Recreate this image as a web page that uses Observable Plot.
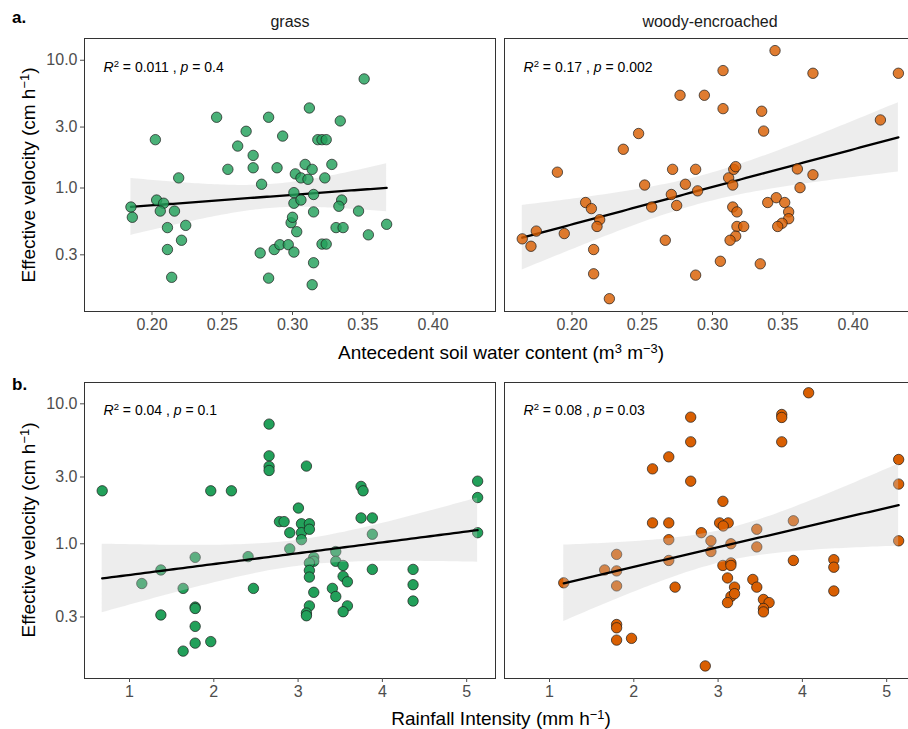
<!DOCTYPE html>
<html><head><meta charset="utf-8">
<script src="https://cdn.jsdelivr.net/npm/d3@7"></script>
<script src="https://cdn.jsdelivr.net/npm/@observablehq/plot@0.6"></script>
<style>
body{margin:0;background:#fff;font-family:"Liberation Sans",Arial,sans-serif;}
#wrap{position:relative;width:908px;height:729px;overflow:hidden;background:#fff;}
.lbl{position:absolute;white-space:nowrap;color:#000;line-height:1;}
.lbl sup{font-size:0.68em;vertical-align:0;position:relative;top:-0.5em;}
.tag{position:absolute;font-weight:bold;font-size:17px;line-height:1;color:#000;}
.chart{position:absolute;left:0;width:915px;}
.chart svg{max-width:none !important;}
</style></head><body>
<div id="wrap">
  <div id="ca" class="chart" style="top:0"></div>
  <div id="cb" class="chart" style="top:365px"></div>
  <div class="tag" style="left:12px;top:9px">a.</div>
  <div class="tag" style="left:12px;top:376px">b.</div>
  <div class="lbl" style="left:28px;top:175px;font-size:19px;transform:translate(-50%,-50%) rotate(-90deg)">Effective velocity (cm h<sup>−1</sup>)</div>
  <div class="lbl" style="left:28px;top:530px;font-size:19px;transform:translate(-50%,-50%) rotate(-90deg)">Effective velocity (cm h<sup>−1</sup>)</div>
  <div class="lbl" style="left:501px;top:352px;font-size:19px;transform:translate(-50%,-50%)">Antecedent soil water content (m<sup>3</sup> m<sup>−3</sup>)</div>
  <div class="lbl" style="left:501px;top:718px;font-size:19px;transform:translate(-50%,-50%)">Rainfall Intensity (mm h<sup>−1</sup>)</div>
</div>
<script>
const panels = ["grass", "woody-encroached"];
const velTicks = [0.3, 1, 3, 10];
const swcTicks = [0.20, 0.25, 0.30, 0.35, 0.40];
const rainTicks = [1, 2, 3, 4, 5];

// a. grass: antecedent soil water content vs effective velocity
const grassSWC = [0.185,0.186,0.2024,0.2033,0.2083,0.2059,0.216,0.219,0.211,0.224,0.221,0.211,0.214,0.246,0.254,0.261,0.267,0.272,0.272,0.278,0.283,0.289,0.293,0.277,0.283,0.287,0.291,0.297,0.301,0.299,0.300,0.303,0.301,0.301,0.306,0.302,0.306,0.311,0.309,0.314,0.312,0.315,0.315,0.315,0.314,0.318,0.321,0.324,0.321,0.324,0.323,0.328,0.334,0.335,0.333,0.331,0.336,0.347,0.351,0.354,0.367];
const grassSWCVel = [0.71,0.59,2.39,0.805,0.76,0.66,0.66,1.20,0.49,0.51,0.39,0.33,0.20,3.58,1.40,2.13,2.78,1.80,1.44,1.07,3.58,1.44,2.55,0.31,0.197,0.33,0.36,0.36,0.315,0.535,0.59,0.455,0.92,0.76,0.805,1.29,1.20,1.17,1.53,1.40,4.23,0.89,0.65,0.26,0.175,2.39,2.39,2.39,0.364,0.364,1.20,1.53,3.35,0.805,0.72,0.49,0.49,0.66,7.14,0.43,0.52];

// a. woody-encroached
const woodySWC = [0.1646,0.1708,0.1746,0.1896,0.1945,0.2097,0.2138,0.2197,0.2178,0.2154,0.2154,0.2266,0.2365,0.2474,0.2517,0.2567,0.2664,0.2707,0.2716,0.2745,0.2769,0.2807,0.2880,0.2894,0.2880,0.2942,0.3056,0.3075,0.3075,0.3115,0.3144,0.3151,0.3165,0.3144,0.3174,0.3174,0.3222,0.3165,0.3125,0.3340,0.3350,0.3364,0.3393,0.3454,0.3445,0.3514,0.3542,0.3542,0.3495,0.3464,0.3604,0.3623,0.3715,0.3715,0.4195,0.4323];
const woodySWCVel = [0.40,0.35,0.46,1.33,0.44,0.77,0.69,0.565,0.50,0.33,0.213,0.136,2.01,2.67,1.055,0.71,0.39,0.89,1.40,0.73,5.32,1.07,1.40,0.95,0.208,5.32,0.267,8.30,4.18,1.20,1.055,1.40,1.47,0.71,0.65,0.50,0.50,0.42,0.39,0.255,3.99,2.79,0.77,0.84,11.9,0.77,0.65,0.575,0.53,0.50,1.41,1.006,7.91,1.27,3.41,7.91];

// b. grass: rainfall intensity vs effective velocity
const grassRain = [0.676,1.146,1.372,1.372,1.636,1.779,1.779,1.779,1.779,1.779,1.636,1.964,1.964,2.209,2.407,2.470,2.656,2.656,2.656,2.656,2.779,2.834,2.901,2.901,3.004,3.040,3.040,3.040,3.134,3.134,3.099,3.186,3.186,3.134,3.134,3.134,3.186,3.134,3.099,3.099,3.447,3.447,3.534,3.534,3.585,3.407,3.447,3.585,3.534,3.747,3.771,3.747,3.881,3.881,3.881,4.364,4.364,4.364,5.130,5.130,5.130];
const grassRainVel = [2.39,0.52,0.65,0.31,0.48,0.80,0.353,0.345,0.257,0.195,0.171,0.20,2.39,2.39,0.81,0.48,7.16,4.25,3.57,3.34,1.44,1.44,1.20,0.92,1.80,1.39,1.20,1.07,1.39,1.27,3.59,0.80,0.75,0.73,0.645,0.578,0.45,0.36,0.32,0.306,0.88,0.75,0.70,0.585,0.535,0.48,0.42,0.36,0.327,2.57,2.39,1.53,1.53,1.17,0.656,0.656,0.51,0.39,2.80,2.14,1.20];

// b. woody-encroached
const woodyRain = [1.169,1.654,1.796,1.796,1.796,1.796,1.796,1.796,1.973,2.222,2.222,2.415,2.415,2.415,2.415,2.490,2.675,2.675,2.675,2.801,2.915,2.915,2.848,3.057,3.018,3.120,3.061,3.152,3.057,3.152,3.152,3.112,3.195,3.152,3.195,3.112,3.459,3.459,3.412,3.459,3.538,3.605,3.538,3.538,3.755,3.755,3.755,3.893,3.893,4.074,4.373,4.373,4.373,5.142,5.142,5.142];
const woodyRainVel = [0.526,0.65,0.84,0.64,0.50,0.265,0.251,0.205,0.211,3.43,1.41,4.18,1.41,1.07,0.76,0.49,8.03,5.35,2.80,1.20,1.05,0.88,0.134,2.01,1.41,1.41,1.34,1.0,0.70,0.73,0.70,0.57,0.49,0.42,0.44,0.38,1.27,0.95,0.556,0.49,0.40,0.38,0.345,0.326,8.39,7.99,5.35,1.46,0.76,11.99,0.77,0.68,0.46,4.0,2.67,1.05];

const r2Labels = ["0.011", "0.17", "0.04", "0.08"];
const pLabels = ["0.4", "0.002", "0.1", "0.03"];

const green = "#22a05a", orange = "#d95f02";

function rows(panel, xs, ys) { return xs.map((x, i) => ({panel, x, y: ys[i]})); }

// linear fit of log10(y) on x with 95% confidence band (as geom_smooth(method="lm") on a log scale)
function fit(panel, xs, ys) {
  const N = xs.length, ly = ys.map(Math.log10);
  const xm = d3.mean(xs), ym = d3.mean(ly);
  let sxx = 0, sxy = 0;
  xs.forEach((x, i) => { sxx += (x - xm) ** 2; sxy += (x - xm) * (ly[i] - ym); });
  const b = sxy / sxx, a = ym - b * xm;
  let sse = 0; xs.forEach((x, i) => { sse += (ly[i] - a - b * x) ** 2; });
  const s = Math.sqrt(sse / (N - 2));
  const df = N - 2, t = 1.96 + 2.37 / df + 2.8 / (df * df);
  const [x0, x1] = d3.extent(xs);
  return d3.range(80).map(k => {
    const x = x0 + (x1 - x0) * k / 79, f = a + b * x;
    const se = s * Math.sqrt(1 / N + (x - xm) ** 2 / sxx);
    return {panel, x, y: 10 ** f, lo: 10 ** (f - t * se), hi: 10 ** (f + t * se)};
  });
}

function richLabels(svg) {
  d3.select(svg).selectAll('g[aria-label="text"] text').each(function () {
    const s = this.textContent;
    const m = s.match(/^R2 = (.+) , p = (.+)$/);
    if (!m) return;
    const el = d3.select(this); el.text(null);
    el.append("tspan").attr("font-style", "italic").text("R");
    el.append("tspan").attr("dy", -5).attr("font-size", 9.5).text("2");
    el.append("tspan").attr("dy", 5).text(` = ${m[1]} , `);
    el.append("tspan").attr("font-style", "italic").text("p");
    el.append("tspan").text(` = ${m[2]}`);
  });
}

function chart({height, marginTop, marginBottom, xDomain, xTicks, xFormat, yDomain, data, fits, labels, pointsFirst, fillOpacity, strip}) {
  const band = Plot.areaY(fits, {x: "x", y1: "lo", y2: "hi", fx: "panel", fill: "#cccccc", fillOpacity: 0.35});
  const line = Plot.line(fits, {x: "x", y: "y", fx: "panel", stroke: "#000", strokeWidth: 2.3, z: "panel"});
  const dots = Plot.dot(data, {x: "x", y: "y", fx: "panel", r: 5.2, fill: d => d.panel === "grass" ? green : orange,
    fillOpacity, stroke: "#1a1a1a", strokeWidth: 0.7});
  const marks = pointsFirst ? [dots, band, line] : [band, line, dots];
  return Plot.plot({
    width: 915, height, marginLeft: 84, marginRight: 0, marginTop, marginBottom,
    style: {fontFamily: "Liberation Sans, Arial, sans-serif", background: "white", overflow: "visible", maxWidth: "none"},
    fx: {domain: panels, paddingInner: 9 / 420, paddingOuter: 0},
    x: {domain: xDomain},
    y: {type: "log", domain: yDomain},
    color: {type: "identity"},
    marks: [
      ...marks,
      Plot.text(labels, {fx: "panel", text: "t", frameAnchor: "top-left", dx: 19, dy: marginTop > 30 ? 24 : 23,
        textAnchor: "start", fontSize: 14, fill: "#000"}),
      Plot.frame({stroke: "#333", strokeWidth: 1}),
      Plot.axisX({ticks: xTicks, tickFormat: xFormat, tickSize: 4, tickPadding: 3, fontSize: 16, color: "#4d4d4d", label: null}),
      Plot.axisY({ticks: velTicks, tickFormat: d3.format(".1f"), tickSize: 4, tickPadding: 3, fontSize: 16, color: "#4d4d4d", label: null, facetAnchor: "left"}),
      strip ? Plot.axisFx({anchor: "top", tickSize: 0, tickPadding: 12, fontSize: 16, color: "#1a1a1a", label: null})
            : Plot.axisFx({anchor: "top", tickSize: 0, tickFormat: () => "", label: null})
    ]
  });
}

const a = chart({
  height: 365, marginTop: 38, marginBottom: 54,
  xDomain: [0.15196, 0.44448], xTicks: swcTicks, xFormat: d3.format(".2f"),
  yDomain: [0.108, 14.8],
  data: [...rows("grass", grassSWC, grassSWCVel), ...rows("woody-encroached", woodySWC, woodySWCVel)],
  fits: [...fit("grass", grassSWC, grassSWCVel), ...fit("woody-encroached", woodySWC, woodySWCVel)],
  labels: [{panel: "grass", t: `R2 = ${r2Labels[0]} , p = ${pLabels[0]}`}, {panel: "woody-encroached", t: `R2 = ${r2Labels[1]} , p = ${pLabels[1]}`}],
  pointsFirst: false, fillOpacity: 0.82, strip: true
});
const b = chart({
  height: 364, marginTop: 17, marginBottom: 51,
  xDomain: [0.466, 5.342], xTicks: rainTicks, xFormat: d3.format("d"),
  yDomain: [0.109, 14.2],
  data: [...rows("grass", grassRain, grassRainVel), ...rows("woody-encroached", woodyRain, woodyRainVel)],
  fits: [...fit("grass", grassRain, grassRainVel), ...fit("woody-encroached", woodyRain, woodyRainVel)],
  labels: [{panel: "grass", t: `R2 = ${r2Labels[2]} , p = ${pLabels[2]}`}, {panel: "woody-encroached", t: `R2 = ${r2Labels[3]} , p = ${pLabels[3]}`}],
  pointsFirst: true, fillOpacity: 1, strip: false
});
richLabels(a); richLabels(b);
document.getElementById("ca").appendChild(a);
document.getElementById("cb").appendChild(b);
</script>
</body></html>
